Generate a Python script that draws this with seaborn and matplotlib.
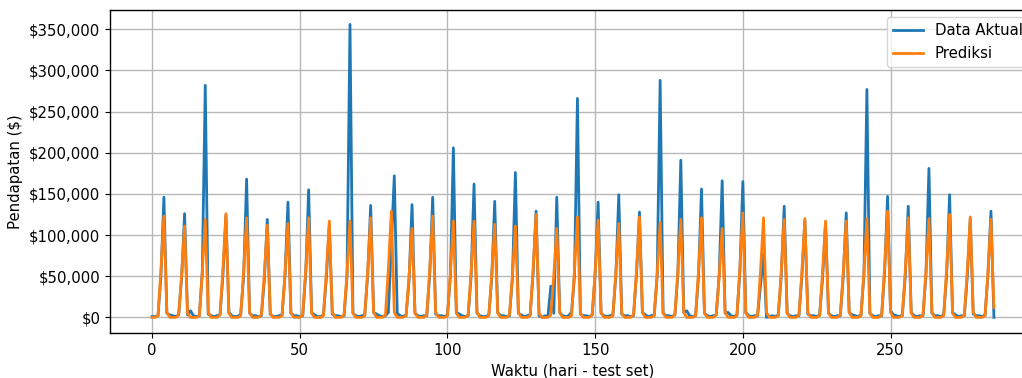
import matplotlib
matplotlib.use("Agg")
import matplotlib.pyplot as plt
from matplotlib.ticker import FuncFormatter
import numpy as np
import pandas as pd
import seaborn as sns

# Daily revenue, in thousands of dollars (one row per week, peak on the 5th day)
actual_k = [
    1, 1, 2, 50, 146, 5, 3,
    2, 1, 3, 48, 126, 3, 8,
    2, 1, 2, 55, 282, 4, 2,
    1, 2, 3, 52, 124, 6, 2,
    1, 1, 4, 50, 168, 5, 2,
    2, 1, 2, 45, 119, 4, 1,
    1, 2, 3, 50, 140, 5, 2,
    2, 1, 2, 52, 155, 6, 3,
    1, 1, 3, 48, 112, 4, 2,
    2, 1, 2, 50, 356, 5, 2,
    1, 2, 3, 52, 136, 6, 4,
    2, 1, 2, 6, 88, 172, 5,
    2, 1, 3, 45, 137, 5, 2,
    1, 2, 2, 52, 146, 4, 2,
    2, 1, 3, 50, 206, 6, 4,
    2, 1, 2, 50, 162, 5, 2,
    1, 1, 3, 48, 141, 6, 2,
    2, 1, 2, 48, 176, 5, 3,
    1, 2, 3, 54, 129, 2, 0,
    2, 1, 38, 5, 146, 6, 2,
    1, 2, 6, 50, 266, 4, 2,
    2, 1, 3, 52, 140, 5, 2,
    1, 2, 3, 50, 149, 4, 2,
    2, 1, 2, 52, 128, 6, 3,
    1, 2, 3, 50, 288, 5, 2,
    2, 1, 3, 52, 191, 6, 8,
    2, 1, 2, 50, 156, 5, 2,
    1, 2, 3, 52, 166, 5, 6,
    2, 1, 3, 55, 165, 6, 2,
    1, 2, 2, 40, 77, 0, 1,
    2, 1, 3, 50, 135, 5, 2,
    1, 2, 2, 50, 118, 4, 2,
    2, 1, 3, 48, 115, 5, 2,
    1, 2, 2, 50, 127, 6, 3,
    2, 1, 3, 52, 277, 5, 2,
    1, 2, 2, 55, 147, 8, 3,
    2, 1, 3, 50, 135, 6, 2,
    1, 2, 2, 52, 181, 5, 2,
    2, 1, 3, 52, 149, 6, 3,
    1, 2, 2, 50, 120, 4, 2,
    2, 1, 3, 52, 129, 0,
]

pred_k = [
    0, 0, 2, 58, 123, 6, 0,
    0, 0, 3, 52, 111, 5, 0,
    0, 0, 2, 56, 119, 6, 0,
    0, 0, 3, 60, 126, 5, 0,
    0, 0, 2, 57, 121, 6, 0,
    0, 0, 3, 53, 112, 5, 0,
    0, 0, 2, 54, 114, 6, 0,
    0, 0, 3, 57, 121, 5, 0,
    0, 0, 2, 55, 117, 6, 0,
    0, 0, 3, 55, 117, 5, 0,
    0, 0, 2, 57, 121, 6, 0,
    0, 0, 3, 60, 129, 6, 0,
    0, 0, 2, 51, 108, 5, 0,
    0, 0, 3, 58, 123, 6, 0,
    0, 0, 2, 55, 117, 5, 0,
    0, 0, 3, 55, 117, 6, 0,
    0, 0, 2, 53, 113, 5, 0,
    0, 0, 3, 52, 111, 6, 0,
    0, 0, 2, 59, 125, 5, 0,
    0, 0, 3, 51, 108, 6, 0,
    0, 0, 2, 57, 122, 5, 0,
    0, 0, 3, 56, 118, 6, 0,
    0, 0, 2, 54, 114, 5, 0,
    0, 0, 3, 57, 122, 6, 0,
    0, 0, 2, 54, 115, 5, 0,
    0, 0, 3, 56, 119, 6, 0,
    0, 0, 2, 57, 121, 5, 0,
    0, 0, 3, 51, 108, 6, 0,
    0, 0, 2, 60, 127, 5, 0,
    0, 0, 3, 57, 121, 6, 0,
    0, 0, 2, 56, 119, 5, 0,
    0, 0, 3, 56, 120, 6, 0,
    0, 0, 2, 55, 117, 5, 0,
    0, 0, 3, 55, 117, 6, 0,
    0, 0, 2, 56, 120, 5, 0,
    0, 0, 3, 61, 129, 6, 0,
    0, 0, 2, 57, 121, 5, 0,
    0, 0, 3, 56, 120, 6, 0,
    0, 0, 2, 59, 125, 5, 0,
    0, 0, 3, 57, 122, 6, 0,
    0, 0, 2, 56, 119, 12,
]

labels = ["Data Aktual", "Prediksi"]
x_label = "Waktu (hari - test set)"
y_label = "Pendapatan ($)"

df = pd.DataFrame({
    "day": np.arange(len(actual_k)),
    "actual": np.array(actual_k) * 1000,
    "pred": np.array(pred_k) * 1000,
})

FS = 10.7
fig = plt.figure(figsize=(10.22, 3.78), dpi=100)
ax = fig.add_axes([110 / 1022, 45 / 378, 926 / 1022, 323 / 378])

sns.lineplot(data=df, x="day", y="actual", ax=ax, color="#1f77b4",
             linewidth=2.0, label=labels[0])
sns.lineplot(data=df, x="day", y="pred", ax=ax, color="#ff7f0e",
             linewidth=2.0, label=labels[1])

ax.set_xlim(-14.25, 299.25)
ax.set_ylim(-19000, 373500)
ax.set_xticks([0, 50, 100, 150, 200, 250])
ax.set_yticks(np.arange(0, 350001, 50000))
ax.yaxis.set_major_formatter(FuncFormatter(lambda v, p: f"${v:,.0f}"))
ax.grid(True, color="#b8b8b8", linewidth=1.0)
ax.set_axisbelow(True)
for s in ax.spines.values():
    s.set_linewidth(1.0)
ax.set_xlabel(x_label, fontsize=FS)
ax.set_ylabel(y_label, fontsize=FS)
ax.tick_params(labelsize=FS)
ax.legend(loc="upper right", fontsize=FS)

fig.savefig("out.png", dpi=100)
